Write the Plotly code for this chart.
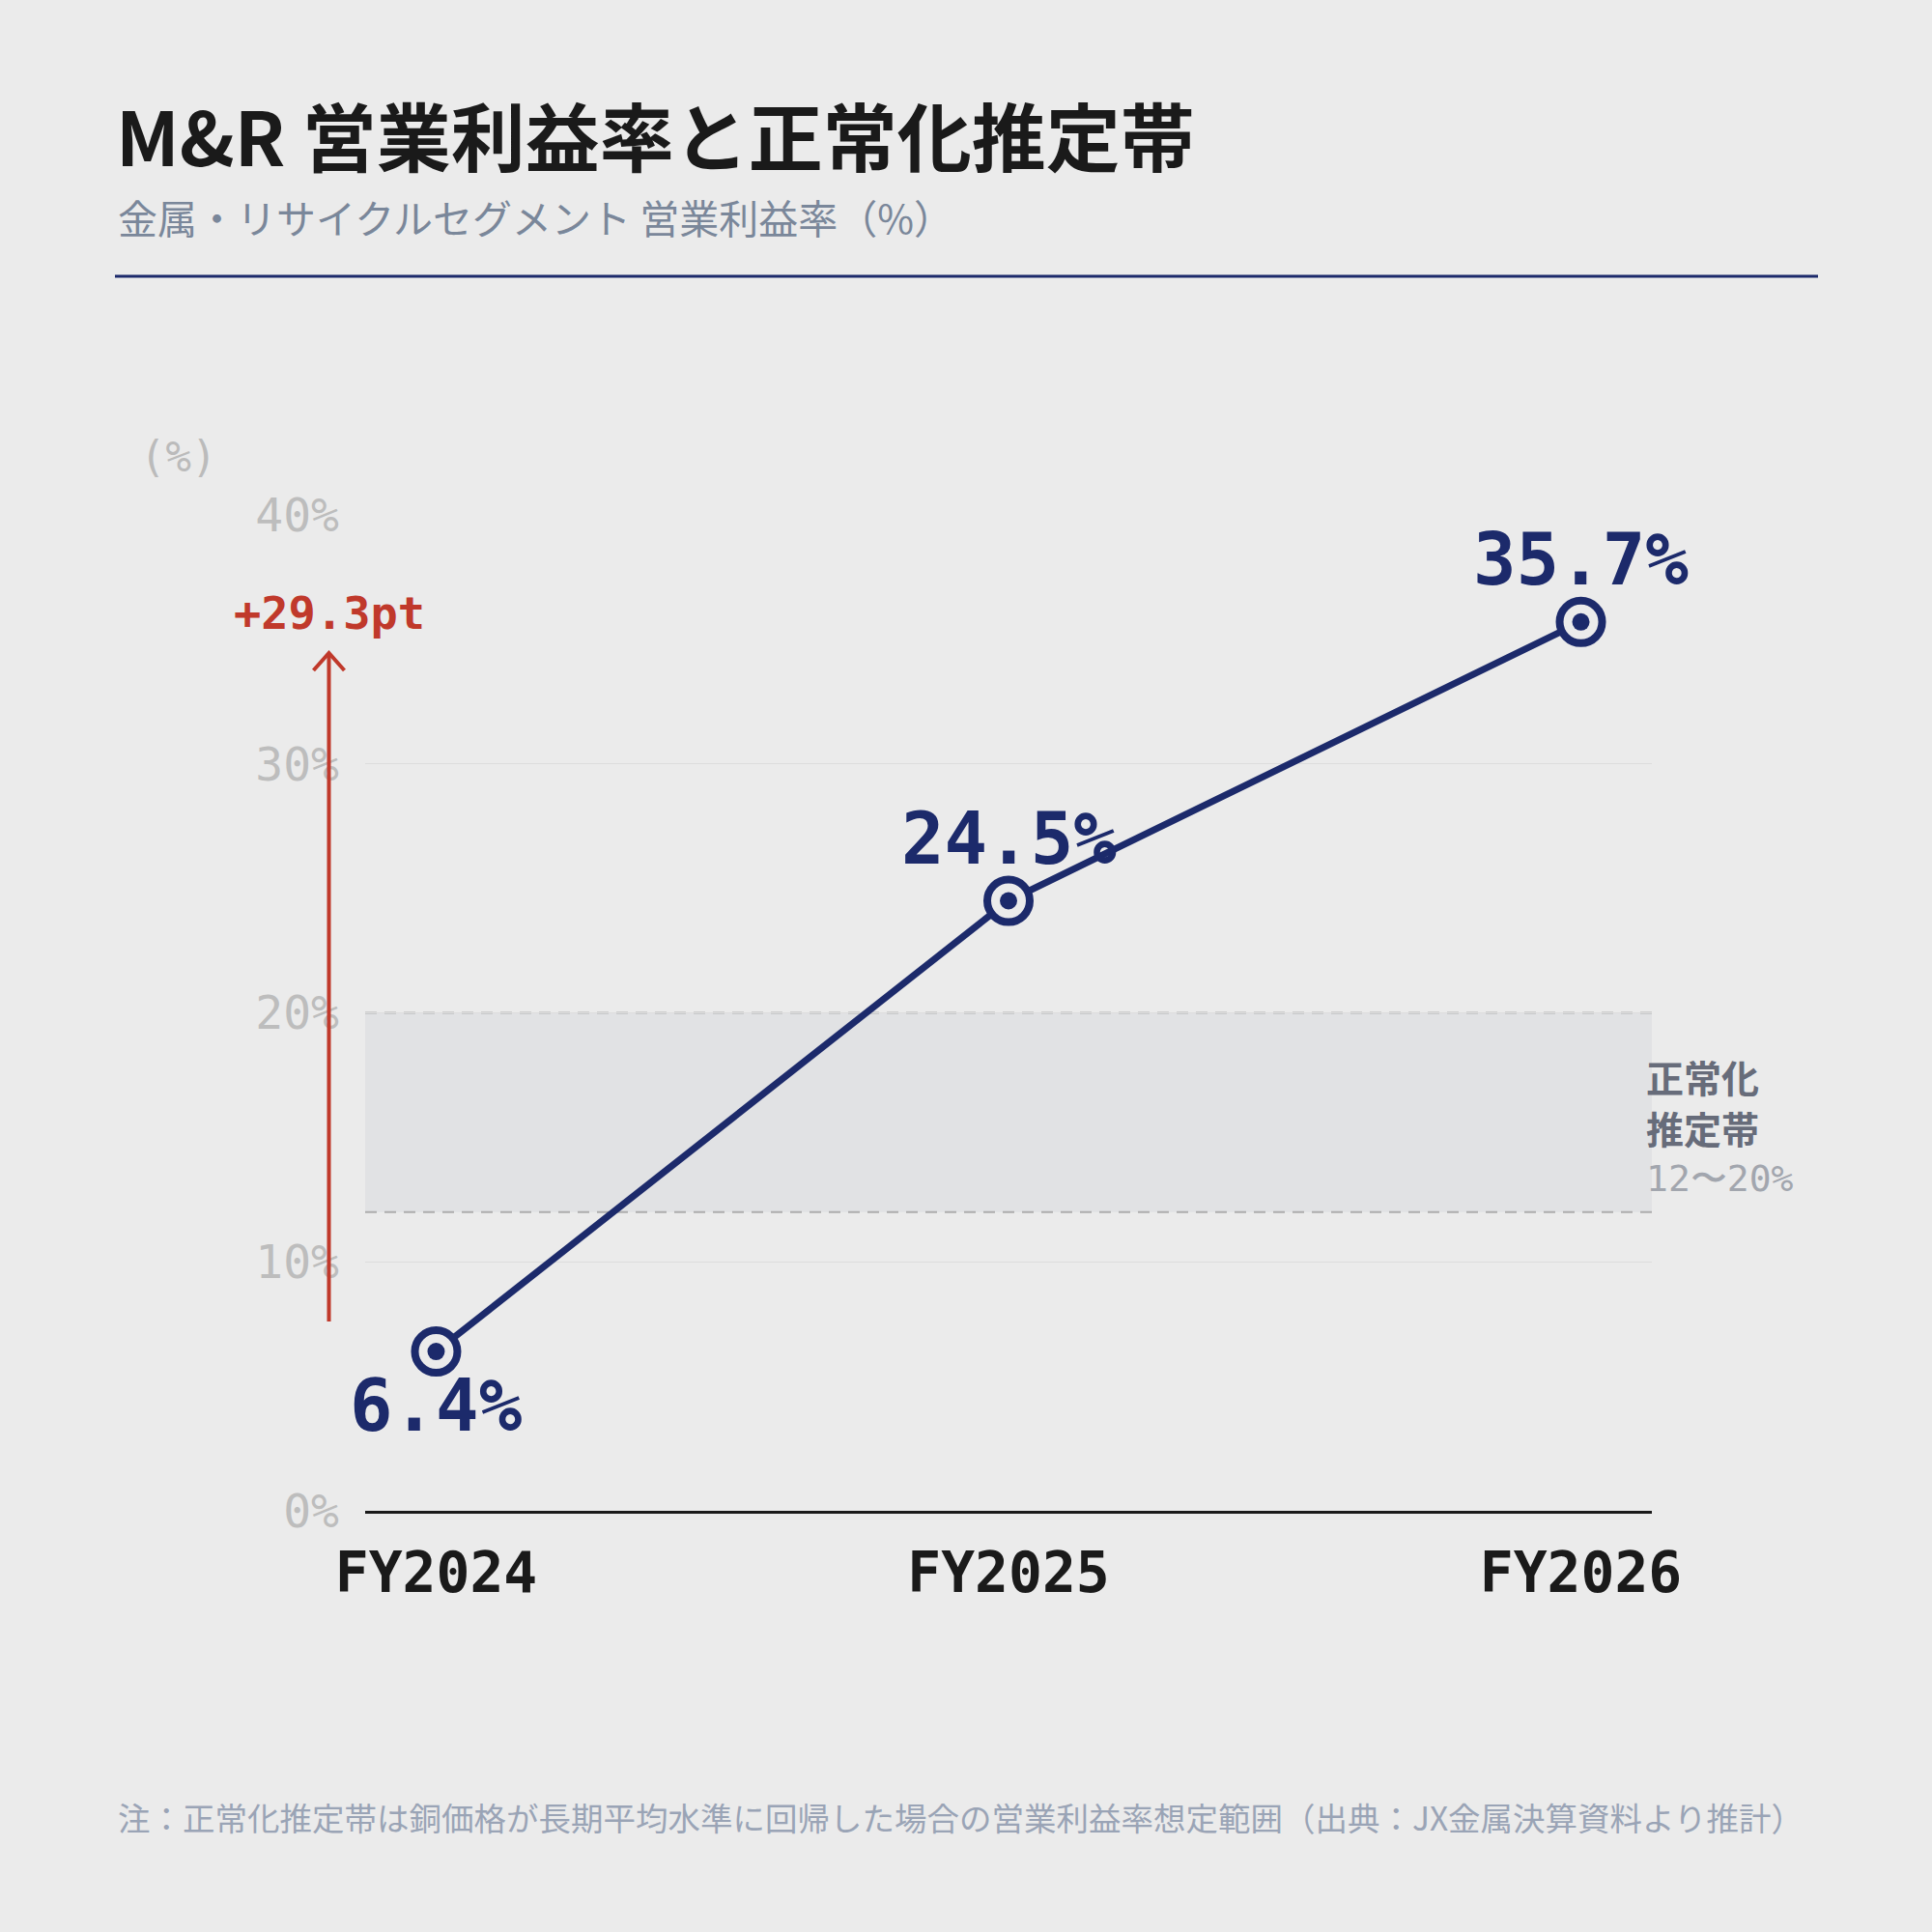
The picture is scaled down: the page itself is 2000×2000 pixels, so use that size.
import plotly.graph_objects as go

# ---- data ----
years = ["FY2024", "FY2025", "FY2026"]
margin_pct = [6.4, 24.5, 35.7]
band_low, band_high = 12, 20
y_ticks = [0, 10, 20, 30, 40]
y_tick_text = [f"{v}%" for v in y_ticks]

title = "M&R 営業利益率と正常化推定帯"
subtitle = "金属・リサイクルセグメント 営業利益率（%）"
footnote = "注：正常化推定帯は銅価格が長期平均水準に回帰した場合の営業利益率想定範囲（出典：JX金属決算資料より推計）"
band_label = ["正常化", "推定帯"]

# ---- style ----
BG = "#EBEBEB"
NAVY = "#1C2A6B"
RED = "#C0392B"
MONO = "DejaVu Sans Mono"
CJK = "Noto Sans CJK JP"

W = H = 2000
L, R, T, B = 378, 1710, 533, 1564


def px(x):
    return (x - L) / (R - L)


def py(y):
    return (B - y) / (B - T)


xs = list(range(len(years)))
fig = go.Figure()

# normalization band
fig.add_shape(type="rect", xref="paper", yref="y", x0=0, x1=1, y0=band_low, y1=band_high,
              fillcolor="#E1E2E4", line_width=0, layer="below")
for v in (band_low, band_high):
    fig.add_shape(type="line", xref="paper", yref="y", x0=0, x1=1, y0=v, y1=v,
                  line=dict(color="#ADADAD", width=2, dash="12px,8px"), layer="below")

fig.add_trace(go.Scatter(
    x=xs, y=margin_pct, mode="lines+markers",
    line=dict(color=NAVY, width=7),
    marker=dict(size=44, color=BG, line=dict(color=NAVY, width=8)),
    hoverinfo="skip", cliponaxis=False,
))
fig.add_trace(go.Scatter(
    x=xs, y=margin_pct, mode="markers",
    marker=dict(size=18, color=NAVY),
    hoverinfo="skip", cliponaxis=False,
))

annotations = []
for i, v in enumerate(margin_pct):
    below = i == 0
    annotations.append(dict(
        x=i, y=v, xref="x", yref="y", text=f"{v:.1f}%", showarrow=False,
        yshift=-56 if below else 65, yanchor="middle",
        font=dict(family=MONO, size=74, color=NAVY, weight="bold"),
    ))

# arrow showing the change
delta = margin_pct[-1] - margin_pct[0]
ax_x = px(340.5)
fig.add_shape(type="line", xref="paper", yref="paper", x0=ax_x, x1=ax_x, y0=py(1368), y1=py(676),
              line=dict(color=RED, width=4))
fig.add_shape(type="path", xref="paper", yref="paper",
              path=f"M {px(324.5)},{py(694)} L {ax_x},{py(676)} L {px(356.5)},{py(694)}",
              line=dict(color=RED, width=4))
annotations.append(dict(x=ax_x, y=py(634), xref="paper", yref="paper", text=f"+{delta:.1f}pt",
                        showarrow=False, xanchor="center", yanchor="middle",
                        font=dict(family=MONO, size=47, color=RED, weight="bold")))

# header / footer texts
annotations += [
    dict(x=px(118), y=py(138), xref="paper", yref="paper", text=title, showarrow=False,
         xanchor="left", yanchor="middle", font=dict(family=CJK, size=77, color="#1A1A1A", weight="bold")),
    dict(x=px(120), y=py(224), xref="paper", yref="paper", text=subtitle, showarrow=False,
         xanchor="left", yanchor="middle", font=dict(family=CJK, size=41, color="#7A879A")),
    dict(x=px(184), y=py(473), xref="paper", yref="paper", text="(%)", showarrow=False,
         xanchor="center", yanchor="middle", font=dict(family=MONO, size=44, color="#BBBBBB")),
    dict(x=px(120), y=py(1880), xref="paper", yref="paper", text=footnote, showarrow=False,
         xanchor="left", yanchor="middle", font=dict(family=CJK, size=33.5, color="#9AA4B6")),
    dict(x=px(1702), y=py(1114), xref="paper", yref="paper", text=band_label[0], showarrow=False,
         xanchor="left", yanchor="middle", font=dict(family=CJK, size=39, color="#676C7A", weight="bold")),
    dict(x=px(1702), y=py(1167), xref="paper", yref="paper", text=band_label[1], showarrow=False,
         xanchor="left", yanchor="middle", font=dict(family=CJK, size=39, color="#676C7A", weight="bold")),
    dict(x=px(1702), y=py(1220), xref="paper", yref="paper", text=f"{band_low}〜{band_high}%", showarrow=False,
         xanchor="left", yanchor="middle", font=dict(family=MONO, size=38, color="#A2A6AE")),
]

# header rule
fig.add_shape(type="line", xref="paper", yref="paper", x0=px(119), x1=px(1882), y0=py(286), y1=py(286),
              line=dict(color=NAVY, width=3))

fig.update_layout(
    width=W, height=H,
    paper_bgcolor=BG, plot_bgcolor=BG,
    margin=dict(l=L, r=W - R, t=T, b=H - B),
    showlegend=False,
    annotations=annotations,
    xaxis=dict(
        range=[-0.124, len(years) - 1 + 0.124],
        tickvals=xs, ticktext=years,
        showgrid=False, zeroline=False,
        showline=True, linecolor="#1A1A1A", linewidth=3,
        ticks="", ticklabelstandoff=11,
        tickfont=dict(family=MONO, size=58, color="#1A1A1A", weight="bold"),
    ),
    yaxis=dict(
        range=[0, 40], tickvals=y_ticks, ticktext=y_tick_text,
        showgrid=True, gridcolor="#DDDDDD", gridwidth=1,
        zeroline=False, showline=False, ticks="", ticklabelstandoff=26,
        tickfont=dict(family=MONO, size=48, color="#BDBDBD"),
    ),
)

fig.write_html("out.html")
